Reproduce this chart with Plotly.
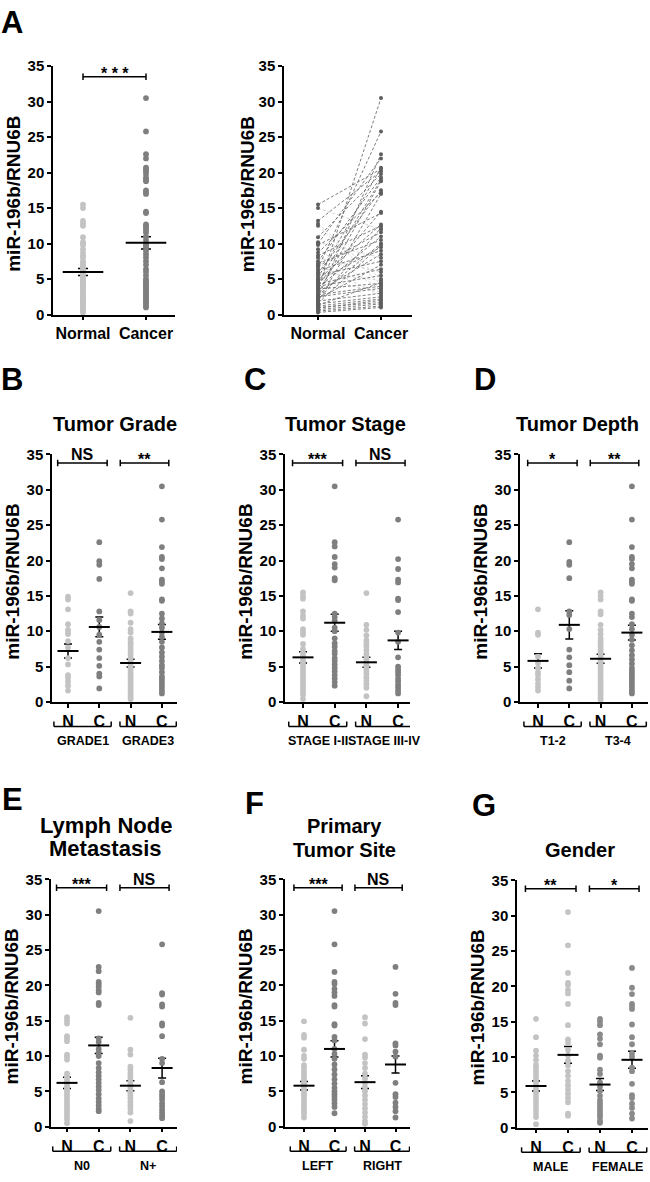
import plotly.graph_objects as go

FONT = "Liberation Sans, Arial, Helvetica, sans-serif"
W, H = 650, 1182

# ------------------------------------------------------------------ data
# Panel A: paired normal / cancer values (same patient order)
normal_A = [15.5, 15.0, 13.2, 12.8, 12.5, 10.9, 10.2, 10.0, 9.8, 9.2, 8.7, 8.3, 8.0,
            7.5, 7.2, 7.0, 6.8, 6.5, 6.2, 5.9, 5.8, 5.5, 5.2, 5.0, 4.9, 4.7, 4.5,
            4.3, 4.2, 4.0, 3.8, 3.6, 3.5, 3.2, 3.0, 2.8, 2.7, 2.5, 2.4, 2.2, 2.0,
            1.9, 1.8, 1.6, 1.5, 1.3, 1.2, 1.0, 0.9, 0.7, 0.5, 0.3]
cancer_A = [20.5, 12.0, 20.2, 5.0, 4.2, 19.8, 8.0, 22.0, 14.3, 3.5, 17.2, 12.5, 6.0,
            19.3, 10.5, 2.7, 11.6, 25.8, 9.0, 4.8, 17.5, 7.5, 20.7, 3.2, 12.7, 9.5,
            19.0, 6.4, 14.5, 5.5, 11.0, 4.4, 30.5, 8.5, 18.8, 4.0, 10.0, 3.7, 22.6,
            7.0, 12.2, 3.0, 17.0, 9.8, 2.5, 4.5, 2.2, 1.7, 2.0, 1.5, 1.2, 1.0]
A_categories = ["Normal", "Cancer"]
A_mean = [6.0, 10.1]
A_sem = [0.5, 0.85]
A_sig = "* * *"

sub_ticks = ["N", "C", "N", "C"]

# Panel B: Tumor Grade
B_title = ["Tumor Grade"]
B_groups = ["GRADE1", "GRADE3"]
B_sig = ["NS", "**"]
B_N1 = [14.9, 14.5, 13.1, 11.0, 10.2, 9.9, 9.6, 8.6, 7.7, 6.2, 5.3, 3.8, 3.4, 2.9, 2.3, 1.6]
B_C1 = [22.6, 19.9, 19.4, 17.4, 12.8, 11.6, 10.6, 9.5, 8.5, 7.4, 6.2, 5.1, 4.0, 3.6, 1.9]
B_N2 = [15.4, 12.8, 12.5, 11.2, 10.3, 9.8, 9.0, 8.5, 8.2, 7.8, 7.4, 7.0, 6.6, 6.2, 5.8,
        5.4, 5.0, 4.6, 4.2, 3.8, 3.5, 3.1, 2.8, 2.4, 2.0, 1.7, 1.3, 1.0, 0.7, 0.4]
B_C2 = [30.5, 25.8, 21.9, 20.5, 20.2, 18.9, 17.3, 17.0, 16.7, 14.5, 14.3, 12.5, 11.8,
        11.1, 10.5, 9.8, 9.2, 8.5, 7.7, 7.0, 6.4, 5.8, 5.2, 4.8, 4.2, 3.6, 3.2, 2.8,
        2.4, 2.0, 1.6, 1.2]
B_mean = [7.2, 10.6, 5.5, 9.9]
B_sem = [1.0, 1.4, 0.55, 1.05]

# Panel C: Tumor Stage
C_title = ["Tumor Stage"]
C_groups = ["STAGE I-II", "STAGE III-IV"]
C_sig = ["***", "NS"]
C_N1 = [15.5, 15.0, 14.6, 12.8, 12.2, 11.8, 10.3, 9.9, 9.5, 8.2, 7.5, 7.0, 6.6, 6.2,
        5.8, 5.4, 5.0, 4.6, 4.2, 3.8, 3.4, 3.0, 2.6, 2.2, 1.8, 1.4, 1.0, 0.4]
C_C1 = [30.5, 22.6, 22.0, 20.5, 19.5, 19.0, 17.5, 17.2, 12.5, 12.0, 11.5, 10.5, 10.0,
        9.0, 8.3, 7.8, 7.2, 6.8, 6.2, 5.8, 5.3, 4.8, 4.3, 3.8, 3.3, 2.8, 2.3]
C_N2 = [15.4, 10.9, 10.2, 9.4, 8.7, 8.2, 7.8, 7.3, 6.8, 6.4, 6.0, 5.6, 5.2, 4.8, 4.4,
        4.0, 3.5, 3.0, 2.5, 2.0, 0.8]
C_C2 = [25.8, 20.2, 18.8, 17.3, 16.9, 14.6, 14.4, 12.7, 9.8, 8.5, 6.3, 5.0, 4.6, 4.2,
        3.8, 3.3, 2.9, 2.4, 2.0, 1.6, 1.2]
C_mean = [6.3, 11.2, 5.6, 8.7]
C_sem = [0.8, 1.2, 0.7, 1.3]

# Panel D: Tumor Depth
D_title = ["Tumor Depth"]
D_groups = ["T1-2", "T3-4"]
D_sig = ["*", "**"]
D_N1 = [13.1, 9.8, 9.5, 6.4, 5.5, 4.8, 4.2, 3.8, 3.2, 2.6, 2.1, 1.6]
D_C1 = [22.6, 19.8, 19.4, 17.5, 12.8, 12.3, 10.3, 7.4, 6.3, 5.2, 4.2, 3.0, 1.9]
D_N2 = [15.5, 15.0, 14.5, 12.8, 12.4, 10.9, 10.2, 9.6, 9.0, 8.6, 8.2, 7.8, 7.4, 7.0,
        6.6, 6.2, 5.8, 5.4, 5.0, 4.6, 4.2, 3.8, 3.4, 3.0, 2.6, 2.2, 1.8, 1.4, 1.0, 0.6, 0.3]
D_C2 = [30.5, 25.8, 21.9, 20.5, 20.2, 19.5, 18.9, 17.3, 17.0, 16.7, 14.5, 14.3, 12.5,
        12.0, 11.0, 10.3, 9.5, 8.8, 8.0, 7.3, 6.6, 6.0, 5.4, 4.8, 4.4, 4.0, 3.6, 3.2,
        2.8, 2.4, 2.0, 1.6, 1.2]
D_mean = [5.8, 10.9, 6.1, 9.8]
D_sem = [1.0, 2.0, 0.65, 1.05]

# Panel E: Lymph Node Metastasis
E_title = ["Lymph Node", "Metastasis"]
E_groups = ["N0", "N+"]
E_sig = ["***", "NS"]
E_N1 = [15.5, 15.0, 14.6, 12.8, 12.5, 12.1, 10.2, 9.9, 9.5, 7.5, 7.0, 6.6, 6.2, 5.8,
        5.4, 5.0, 4.6, 4.2, 3.8, 3.4, 3.0, 2.6, 2.2, 1.8, 1.4, 1.0, 0.5]
E_C1 = [30.5, 22.6, 22.0, 20.5, 20.2, 19.8, 19.3, 19.0, 17.5, 17.2, 12.5, 12.0, 11.0,
        10.5, 10.0, 9.0, 8.3, 7.7, 7.2, 6.7, 6.2, 5.7, 5.2, 4.6, 4.0, 3.5, 3.0, 2.5, 2.2]
E_N2 = [15.4, 10.9, 10.2, 8.5, 8.1, 7.6, 7.2, 6.8, 6.4, 6.0, 5.6, 5.2, 4.8, 4.4, 4.0,
        3.5, 3.0, 2.5, 2.0, 0.8]
E_C2 = [25.8, 18.9, 18.7, 17.3, 17.0, 14.6, 14.3, 12.8, 9.6, 9.0, 6.3, 5.0, 4.6, 4.2,
        3.8, 3.3, 2.9, 2.4, 2.0, 1.6, 1.2]
E_mean = [6.2, 11.5, 5.8, 8.3]
E_sem = [0.8, 1.15, 0.7, 1.4]

# Panel F: Primary Tumor Site
F_title = ["Primary", "Tumor Site"]
F_groups = ["LEFT", "RIGHT"]
F_sig = ["***", "NS"]
F_N1 = [14.9, 13.0, 12.6, 10.9, 10.0, 9.6, 8.7, 8.3, 7.8, 7.4, 7.0, 6.6, 6.2, 5.8, 5.4,
        5.0, 4.6, 4.2, 3.8, 3.4, 3.0, 2.6, 2.2, 1.8, 1.3]
F_C1 = [30.5, 25.8, 21.9, 20.5, 20.2, 19.5, 19.0, 18.5, 17.2, 17.0, 14.5, 14.3, 12.7,
        12.2, 11.0, 10.3, 9.6, 8.8, 8.1, 7.4, 6.7, 6.1, 5.5, 5.0, 4.6, 4.2, 3.8, 3.3,
        2.8, 1.9]
F_N2 = [15.5, 14.6, 12.4, 10.2, 9.8, 9.0, 8.3, 7.5, 6.8, 6.2, 5.6, 5.0, 4.4, 3.8, 3.2,
        2.6, 2.0, 1.4, 0.8, 0.4]
F_C2 = [22.6, 18.8, 17.5, 17.2, 11.8, 11.5, 10.6, 9.9, 6.2, 4.6, 4.2, 3.4, 2.8, 2.2, 1.3]
F_mean = [5.8, 11.0, 6.3, 8.8]
F_sem = [0.6, 1.15, 0.9, 1.2]

# Panel G: Gender
G_title = ["Gender"]
G_groups = ["MALE", "FEMALE"]
G_sig = ["**", "*"]
G_N1 = [15.4, 12.8, 10.9, 10.2, 9.6, 8.9, 8.5, 8.0, 7.5, 7.0, 6.5, 6.0, 5.5, 5.0, 4.5,
        4.0, 3.5, 3.0, 2.5, 2.0, 1.5, 0.5]
G_C1 = [30.5, 25.8, 21.9, 20.5, 20.2, 19.5, 19.0, 17.5, 14.5, 12.5, 12.0, 11.0, 10.2,
        9.5, 8.8, 8.0, 7.3, 6.6, 6.0, 5.4, 4.8, 4.2, 3.6, 2.0, 1.7]
G_N2 = [15.4, 15.0, 14.5, 13.2, 12.6, 11.8, 10.2, 9.9, 8.2, 7.6, 6.4, 5.8, 5.2, 4.5,
        3.9, 3.5, 3.1, 2.7, 2.3, 1.9, 1.5, 1.0, 0.7]
G_C2 = [22.6, 19.8, 18.9, 17.5, 17.2, 16.8, 14.6, 12.8, 11.8, 10.5, 10.0, 8.5, 8.0,
        6.2, 4.6, 4.2, 3.4, 2.8, 2.0, 1.3]
G_mean = [5.9, 10.3, 6.1, 9.6]
G_sem = [0.7, 1.2, 0.85, 1.2]

Y_TITLE = "miR-196b/RNU6B"
Y_TICKS = [0, 5, 10, 15, 20, 25, 30, 35]

# ------------------------------------------------------------------ styles / geometry
LIGHT = "#c3c3c3"
DARK = "#7f7f7f"
MID = "#8a8a8a"

# pixel geometry: y-axis x, x-axis end, top(35), bottom(0), first category x, spacing
geo = {
    "A1": dict(left=53, right=175, top=58, bottom=310, c0=83, d=63),
    "A2": dict(left=284, right=412, top=58, bottom=310, c0=318, d=63),
    "B": dict(left=52, right=177, top=452, bottom=703, c0=68, d=31.3),
    "C": dict(left=285, right=410, top=452, bottom=703, c0=303, d=31.7),
    "D": dict(left=520, right=648, top=452, bottom=703, c0=538, d=31.3),
    "E": dict(left=51, right=177, top=883, bottom=1134, c0=67, d=31.7),
    "F": dict(left=285, right=410, top=883, bottom=1134, c0=304, d=30.5),
    "G": dict(left=517, right=648, top=884, bottom=1135, c0=536, d=32),
}

fig = go.Figure()
layout_axes = {}
annotations = []
shapes = []


def bold(size, color="black"):
    return dict(family=FONT, size=size, color=color, weight="bold")


axis_common = dict(showgrid=False, zeroline=False, showline=True, linecolor="black",
                   linewidth=1.5, ticks="outside", ticklen=4, tickwidth=1.5,
                   tickcolor="black", fixedrange=True)


def setup_axes(k, g, ticktext, ytitle_offset=39.5):
    s = "" if k == 1 else str(k)
    n = len(ticktext)
    xr = [(g["left"] - g["c0"]) / g["d"], (g["right"] - g["c0"]) / g["d"]]
    layout_axes["xaxis" + s] = dict(domain=[g["left"] / W, g["right"] / W], range=xr,
                                    anchor="y" + s, tickvals=list(range(n)),
                                    ticktext=ticktext, tickfont=bold(16), **axis_common)
    layout_axes["yaxis" + s] = dict(domain=[1 - g["bottom"] / H, 1 - g["top"] / H],
                                    range=[0, 35], anchor="x" + s, tickvals=Y_TICKS,
                                    tickfont=bold(15), **axis_common)
    annotations.append(dict(text=Y_TITLE, textangle=-90, xref="paper", yref="paper",
                            x=(g["left"] - ytitle_offset) / W,
                            y=1 - ((g["top"] + g["bottom"]) / 2 + 4) / H,
                            showarrow=False, font=bold(19), xanchor="center",
                            yanchor="middle"))
    return "x" + s, "y" + s


def sig_bracket(xr, yr, x0, x1, label, yv=33.8):
    shapes.append(dict(type="line", xref=xr, yref=yr, x0=x0, x1=x1, y0=yv, y1=yv,
                       line=dict(color="black", width=1.5)))
    for xe in (x0, x1):
        shapes.append(dict(type="line", xref=xr, yref=yr, x0=xe, x1=xe, y0=yv - 0.45,
                           y1=yv + 0.45, line=dict(color="black", width=1.5)))
    star = "*" in label
    annotations.append(dict(text=label, xref=xr, yref=yr, x=(x0 + x1) / 2, y=yv,
                            yanchor="bottom", showarrow=False, font=bold(16),
                            yshift=-7 if star else -2))


def dot_panel(xr, yr, groups, means, sems, colors, mean_size, cap):
    cats = list(range(len(groups)))
    fig.add_trace(go.Scatter(x=cats, y=means, mode="markers",
                             marker=dict(size=1, color="rgba(0,0,0,0)"),
                             error_y=dict(type="data", array=sems, width=cap,
                                          thickness=1.5, color="black"),
                             xaxis=xr, yaxis=yr, hoverinfo="skip"))
    for i, vals in enumerate(groups):
        fig.add_trace(go.Scatter(x=[i] * len(vals), y=vals, mode="markers",
                                 marker=dict(size=5.8, color=colors[i]),
                                 cliponaxis=False, xaxis=xr, yaxis=yr,
                                 hoverinfo="y"))
    fig.add_trace(go.Scatter(x=cats, y=means, mode="markers",
                             marker=dict(symbol="line-ew", size=mean_size,
                                         color="black",
                                         line=dict(width=2, color="black")),
                             cliponaxis=False, xaxis=xr, yaxis=yr, hoverinfo="skip"))


# ---- Panel A left: scatter
xr, yr = setup_axes(1, geo["A1"], A_categories)
dot_panel(xr, yr, [normal_A, cancer_A], A_mean, A_sem, [LIGHT, DARK], 29, 5)
sig_bracket(xr, yr, 0, 1, A_sig, yv=33.5)

# ---- Panel A right: paired lines
xr, yr = setup_axes(2, geo["A2"], A_categories, ytitle_offset=37)
ux, uy, dx, dy = [], [], [], []
for nv, cv in zip(normal_A, cancer_A):
    if cv >= nv:
        ux += [0, 1, None]; uy += [nv, cv, None]
    else:
        dx += [0, 1, None]; dy += [nv, cv, None]
fig.add_trace(go.Scatter(x=dx, y=dy, mode="lines",
                         line=dict(color="#cfcfcf", width=0.9, dash="3px,2px"),
                         xaxis=xr, yaxis=yr, hoverinfo="skip"))
fig.add_trace(go.Scatter(x=ux, y=uy, mode="lines",
                         line=dict(color="#6e6e6e", width=0.9, dash="3px,2px"),
                         xaxis=xr, yaxis=yr, hoverinfo="skip"))
fig.add_trace(go.Scatter(x=[0] * len(normal_A), y=normal_A, mode="markers",
                         marker=dict(size=4, color="#5e5e5e"), cliponaxis=False,
                         xaxis=xr, yaxis=yr))
fig.add_trace(go.Scatter(x=[1] * len(cancer_A), y=cancer_A, mode="markers",
                         marker=dict(size=4, color="#5e5e5e"), cliponaxis=False,
                         xaxis=xr, yaxis=yr))

# ---- Panels B..G
subpanels = [
    ("B", B_title, B_groups, B_sig, [B_N1, B_C1, B_N2, B_C2], B_mean, B_sem, [LIGHT, DARK, LIGHT, DARK]),
    ("C", C_title, C_groups, C_sig, [C_N1, C_C1, C_N2, C_C2], C_mean, C_sem, [LIGHT, DARK, LIGHT, DARK]),
    ("D", D_title, D_groups, D_sig, [D_N1, D_C1, D_N2, D_C2], D_mean, D_sem, [LIGHT, DARK, LIGHT, DARK]),
    ("E", E_title, E_groups, E_sig, [E_N1, E_C1, E_N2, E_C2], E_mean, E_sem, [LIGHT, DARK, LIGHT, DARK]),
    ("F", F_title, F_groups, F_sig, [F_N1, F_C1, F_N2, F_C2], F_mean, F_sem, [LIGHT, DARK, LIGHT, DARK]),
    ("G", G_title, G_groups, G_sig, [G_N1, G_C1, G_N2, G_C2], G_mean, G_sem, [LIGHT, LIGHT, MID, MID]),
]
# title positions (px): center x, first-line center y
title_pos = {"B": (115, 421), "C": (345, 421), "D": (577, 421),
             "E": (106, 828), "F": (344, 829), "G": (580, 853)}
title_size = {"B": 20, "C": 20, "D": 20, "E": 22, "F": 20, "G": 20}

for k, (key, title, grp, sig, vals, means, sems, cols) in enumerate(subpanels, start=3):
    g = geo[key]
    xr, yr = setup_axes(k, g, sub_ticks)
    dot_panel(xr, yr, vals, means, sems, cols, 15, 4)
    spans_top = [(-0.33, 1.25), (1.67, 3.22)]
    spans_bot = [(-0.45, 1.38), (1.66, 3.46)]
    for (x0, x1), lab in zip(spans_top, sig):
        sig_bracket(xr, yr, x0, x1, lab)
    ydom = yr + " domain"
    plot_h = g["bottom"] - g["top"]
    yb = -25 / plot_h
    yt = -20 / plot_h
    for (x0, x1), lab in zip(spans_bot, grp):
        shapes.append(dict(type="line", xref=xr, yref=ydom, x0=x0, x1=x1, y0=yb, y1=yb,
                           line=dict(color="black", width=1.5)))
        for xe in (x0, x1):
            shapes.append(dict(type="line", xref=xr, yref=ydom, x0=xe, x1=xe, y0=yb,
                               y1=yt, line=dict(color="black", width=1.5)))
        annotations.append(dict(text=lab, xref=xr, yref=ydom, x=(x0 + x1) / 2,
                                y=-40 / plot_h, yanchor="middle", showarrow=False,
                                font=bold(12.5)))
    tx, ty = title_pos[key]
    for li, line in enumerate(title):
        annotations.append(dict(text=line, xref="paper", yref="paper", x=tx / W,
                                y=1 - (ty + 24 * li) / H, xanchor="center",
                                yanchor="middle", showarrow=False,
                                font=bold(title_size[key])))

# ---- panel letters
letters = [("A", 12, 14), ("B", 12, 376), ("C", 255, 376), ("D", 485, 376),
           ("E", 12, 802), ("F", 254, 806), ("G", 484, 808)]
for t, lx, ly in letters:
    annotations.append(dict(text=t, xref="paper", yref="paper", x=lx / W, y=1 - ly / H,
                            xanchor="center", yanchor="middle", showarrow=False,
                            font=bold(31)))

fig.update_layout(width=W, height=H, margin=dict(l=0, r=0, t=0, b=0),
                  paper_bgcolor="white", plot_bgcolor="white", showlegend=False,
                  font=dict(family=FONT, color="black"),
                  annotations=annotations, shapes=shapes, **layout_axes)

fig.write_html("out.html", config={"displayModeBar": False},
               post_script="document.body.style.margin='0';"
                           "document.body.style.overflow='hidden';")
